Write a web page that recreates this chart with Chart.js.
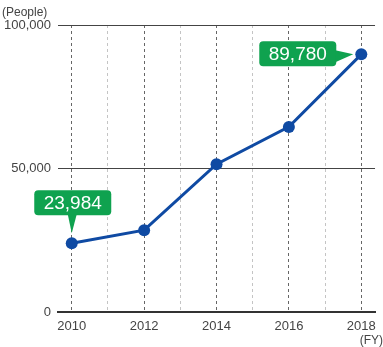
<!DOCTYPE html>
<html>
<head>
<meta charset="utf-8">
<script src="https://cdn.jsdelivr.net/npm/chart.js@4.4.1/dist/chart.umd.min.js"></script>
<style>
  html, body { margin: 0; padding: 0; background: #fff; }
  #wrap { position: relative; width: 383px; height: 347px; }
</style>
</head>
<body>
<div id="wrap"><canvas id="grafico"></canvas></div>
<script>
const anos = [2010, 2012, 2014, 2016, 2018];
const pessoas = [23984, 28500, 51500, 64500, 89780];
const ticksAnos = [2010, 2011, 2012, 2013, 2014, 2015, 2016, 2017, 2018];
const ticksPessoas = [0, 50000, 100000];
const destaques = [0, 4];

const fonte = '"Liberation Sans", Arial, sans-serif';
const verde = '#0fa24f';
const azul = '#0f4aa3';

function caixa(ctx, x, y, w, h, r) {
    ctx.beginPath();
    ctx.moveTo(x + r, y);
    ctx.lineTo(x + w - r, y);
    ctx.quadraticCurveTo(x + w, y, x + w, y + r);
    ctx.lineTo(x + w, y + h - r);
    ctx.quadraticCurveTo(x + w, y + h, x + w - r, y + h);
    ctx.lineTo(x + r, y + h);
    ctx.quadraticCurveTo(x, y + h, x, y + h - r);
    ctx.lineTo(x, y + r);
    ctx.quadraticCurveTo(x, y, x + r, y);
    ctx.closePath();
    ctx.fill();
}

const textosExtras = {
    id: 'textosExtras',
    afterDraw(chart) {
        const ctx = chart.ctx;
        ctx.save();
        ctx.fillStyle = '#444';
        ctx.font = '12px ' + fonte;
        ctx.textBaseline = 'middle';
        ctx.textAlign = 'left';
        ctx.fillText('(People)', 2, 13);
        ctx.textAlign = 'right';
        ctx.fillText('(FY)', 383, 341);
        ctx.restore();
    },
    afterDatasetsDraw(chart) {
        const ctx = chart.ctx;
        const meta = chart.getDatasetMeta(0);
        ctx.save();
        ctx.font = '19px ' + fonte;
        ctx.textAlign = 'center';
        ctx.textBaseline = 'middle';
        destaques.forEach(function (i, n) {
            const p = meta.data[i];
            const texto = pessoas[i].toLocaleString('en-US');
            const w = 77, h = 25;
            ctx.fillStyle = verde;
            if (n === 0) {
                const bx = p.x - w / 2 + 1, by = p.y - 53;
                caixa(ctx, bx, by, w, h, 4);
                ctx.beginPath();
                ctx.moveTo(p.x - 4, by + h - 1);
                ctx.lineTo(p.x + 5, by + h - 1);
                ctx.lineTo(p.x, p.y - 10);
                ctx.closePath();
                ctx.fill();
                ctx.fillStyle = '#fff';
                ctx.fillText(texto, bx + w / 2, by + h / 2 + 1);
            } else {
                const bx = p.x - 25 - w, by = p.y - 13;
                caixa(ctx, bx, by, w, h, 4);
                ctx.beginPath();
                ctx.moveTo(bx + w - 1, p.y - 4);
                ctx.lineTo(bx + w - 1, p.y + 8);
                ctx.lineTo(p.x - 8, p.y);
                ctx.closePath();
                ctx.fill();
                ctx.fillStyle = '#fff';
                ctx.fillText(texto, bx + w / 2, by + h / 2 + 1);
            }
        });
        ctx.restore();
    }
};

const dados = {
    datasets: [{
        data: anos.map((a, i) => ({ x: a, y: pessoas[i] })),
        borderColor: azul,
        backgroundColor: azul,
        borderWidth: 3,
        pointRadius: 6,
        pointHoverRadius: 6,
        pointBackgroundColor: azul,
        pointBorderWidth: 0,
        tension: 0,
        clip: false
    }]
};

const config = {
    type: 'line',
    data: dados,
    plugins: [textosExtras],
    options: {
        responsive: true,
        maintainAspectRatio: false,
        animation: false,
        layout: { padding: { top: 25, left: 0, right: 0, bottom: 0 } },
        plugins: {
            legend: { display: false },
            title: { display: false },
            tooltip: { enabled: false }
        },
        scales: {
            x: {
                type: 'linear',
                min: 2009.62,
                max: 2018.38,
                afterBuildTicks: (s) => { s.ticks = ticksAnos.map(v => ({ value: v })); },
                afterFit: (s) => { s.height = 35; },
                grid: {
                    drawTicks: false,
                    lineWidth: 1,
                    color: (c) => (c.tick && c.tick.value % 2 === 0) ? '#666' : '#c4c4c4'
                },
                border: { display: true, color: '#333', width: 2, dash: [3, 3] },
                ticks: {
                    padding: 7,
                    color: '#444',
                    font: { size: 13, family: fonte },
                    maxRotation: 0,
                    autoSkip: false,
                    callback: (v) => (v % 2 === 0 ? String(v) : '')
                }
            },
            y: {
                min: 0,
                max: 100000,
                afterBuildTicks: (s) => { s.ticks = ticksPessoas.map(v => ({ value: v })); },
                afterFit: (s) => { s.width = 58; },
                grid: {
                    drawTicks: false,
                    lineWidth: 1,
                    color: (c) => (c.tick && c.tick.value === 0) ? 'rgba(0,0,0,0)' : '#444'
                },
                border: { display: false },
                ticks: {
                    padding: 7,
                    color: '#444',
                    font: { size: 13, family: fonte },
                    callback: (v) => v.toLocaleString('en-US')
                }
            }
        }
    }
};

const instanciaGrafico = new Chart(document.getElementById('grafico'), config);
</script>
</body>
</html>
